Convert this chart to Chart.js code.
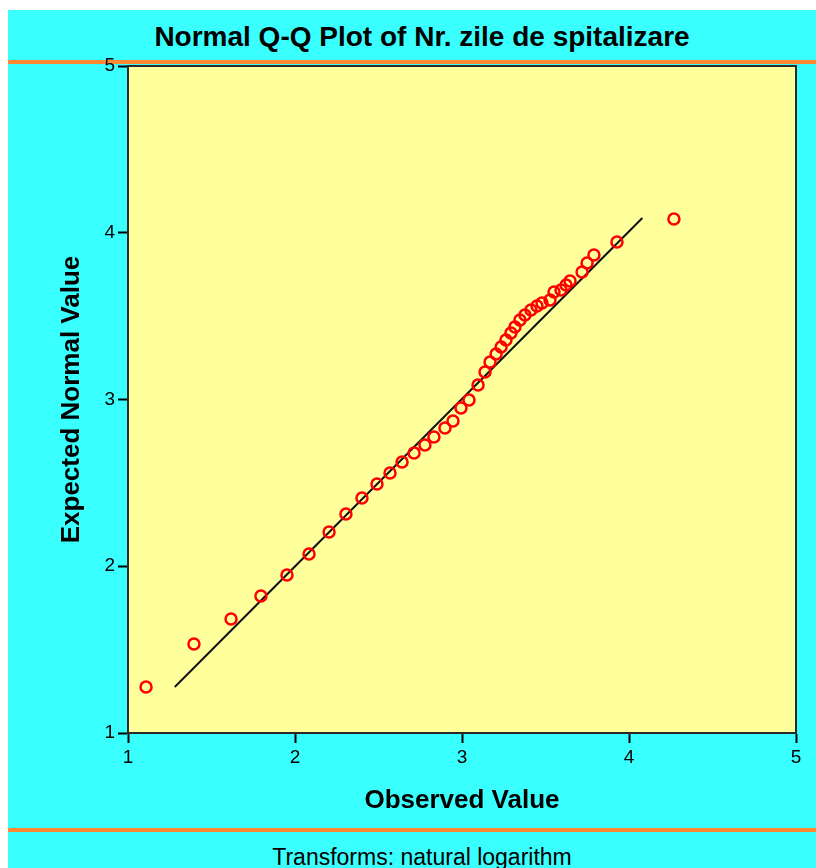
<!DOCTYPE html>
<html>
<head>
<meta charset="utf-8">
<script src="https://cdn.jsdelivr.net/npm/chart.js@4"></script>
<style>
  html, body { margin: 0; padding: 0; background: #fff; }
  #wrap { position: absolute; left: 8px; top: 10px; width: 808px; height: 858px; background: #39FFFF; overflow: hidden; }
  .bar { position: absolute; left: 0; width: 808px; height: 4px; background: #FF8833; }
  .txt { position: absolute; left: 0; width: 828px; text-align: center; font-family: 'Liberation Sans', Arial, sans-serif; color: #000; }
  #title { top: 11px; font-size: 28px; font-weight: bold; }
  #foot { top: 834px; font-size: 23px; }
  #cv { position: absolute; left: 0; top: 0; }
</style>
</head>
<body>
<div id="wrap">
  <div id="title" class="txt">Normal Q-Q Plot of Nr. zile de spitalizare</div>
  <div class="bar" style="top:50px"></div>
  <div class="bar" style="top:818px"></div>
  <div id="foot" class="txt">Transforms: natural logarithm</div>
</div>
<canvas id="cv" width="816" height="868"></canvas>
<script>
/* ========= DATA ========= */
const observed = [1.108, 1.395, 1.617, 1.796, 1.952, 2.084, 2.204, 2.305, 2.401, 2.491,
  2.569, 2.641, 2.713, 2.778, 2.832, 2.898, 2.946, 2.994, 3.042, 3.096,
  3.138, 3.168, 3.204, 3.234, 3.263, 3.293, 3.317, 3.347, 3.377, 3.413,
  3.449, 3.479, 3.527, 3.551, 3.593, 3.623, 3.647, 3.719, 3.749, 3.790,
  3.928, 4.269];
const expected = [1.276, 1.534, 1.684, 1.822, 1.948, 2.073, 2.205, 2.313, 2.409, 2.493,
  2.559, 2.625, 2.679, 2.727, 2.775, 2.829, 2.871, 2.949, 2.997, 3.087,
  3.165, 3.225, 3.273, 3.315, 3.357, 3.399, 3.435, 3.477, 3.507, 3.537,
  3.561, 3.579, 3.597, 3.645, 3.657, 3.687, 3.711, 3.765, 3.819, 3.867,
  3.945, 4.082];
const refLineX = [1.28, 4.08];
const refLineY = [1.276, 4.088];
const tickValues = [1, 2, 3, 4, 5];

/* ========= HELPERS ========= */
const FONT = "'Liberation Sans', Arial, sans-serif";
const pairs = (xs, ys) => xs.map((x, i) => ({ x, y: ys[i] }));

// yellow plot area + dark frame
const plotBg = {
  id: 'plotBg',
  beforeDraw(chart) {
    const { ctx, chartArea: a } = chart;
    ctx.save();
    ctx.fillStyle = '#FFFF9C';
    ctx.fillRect(a.left, a.top, a.width, a.height);
    ctx.restore();
  },
  afterDatasetsDraw(chart) {
    const { ctx, chartArea: a } = chart;
    ctx.save();
    ctx.strokeStyle = '#2a2a2a';
    ctx.lineWidth = 2;
    ctx.strokeRect(a.left, a.top, a.width, a.height);
    ctx.restore();
  }
};

const axis = (title, fixFit) => ({
  type: 'linear',
  min: 1, max: 5,
  afterBuildTicks: s => { s.ticks = tickValues.map(v => ({ value: v })); },
  afterFit: fixFit,
  grid: { drawOnChartArea: false, drawTicks: true, tickLength: 10, tickColor: '#000', tickWidth: 2 },
  border: { display: true, color: '#2a2a2a', width: 2 },
  ticks: { color: '#000', font: { family: FONT, size: 19 }, padding: 3 },
  title: { display: true, text: title, color: '#000', font: { family: FONT, size: 26, weight: 'bold' }, padding: { top: 4, bottom: 4 } }
});

/* ========= CHART ========= */
new Chart(document.getElementById('cv'), {
  type: 'scatter',
  data: {
    datasets: [
      {
        data: pairs(observed, expected),
        pointStyle: 'circle',
        pointRadius: 5.5,
        pointBorderWidth: 2.5,
        borderColor: '#FF0000',
        backgroundColor: 'rgba(0,0,0,0)'
      },
      {
        type: 'line',
        data: pairs(refLineX, refLineY),
        borderColor: '#111',
        borderWidth: 2,
        pointRadius: 0,
        fill: false
      }
    ]
  },
  options: {
    responsive: false,
    animation: false,
    layout: { padding: { left: 52, right: 20, top: 66, bottom: 48 } },
    plugins: { legend: { display: false }, tooltip: { enabled: false } },
    scales: {
      x: axis('Observed Value', s => { s.height = 87; }),
      y: axis('Expected Normal Value', s => { s.width = 76; })
    }
  },
  plugins: [plotBg]
});
</script>
</body>
</html>
